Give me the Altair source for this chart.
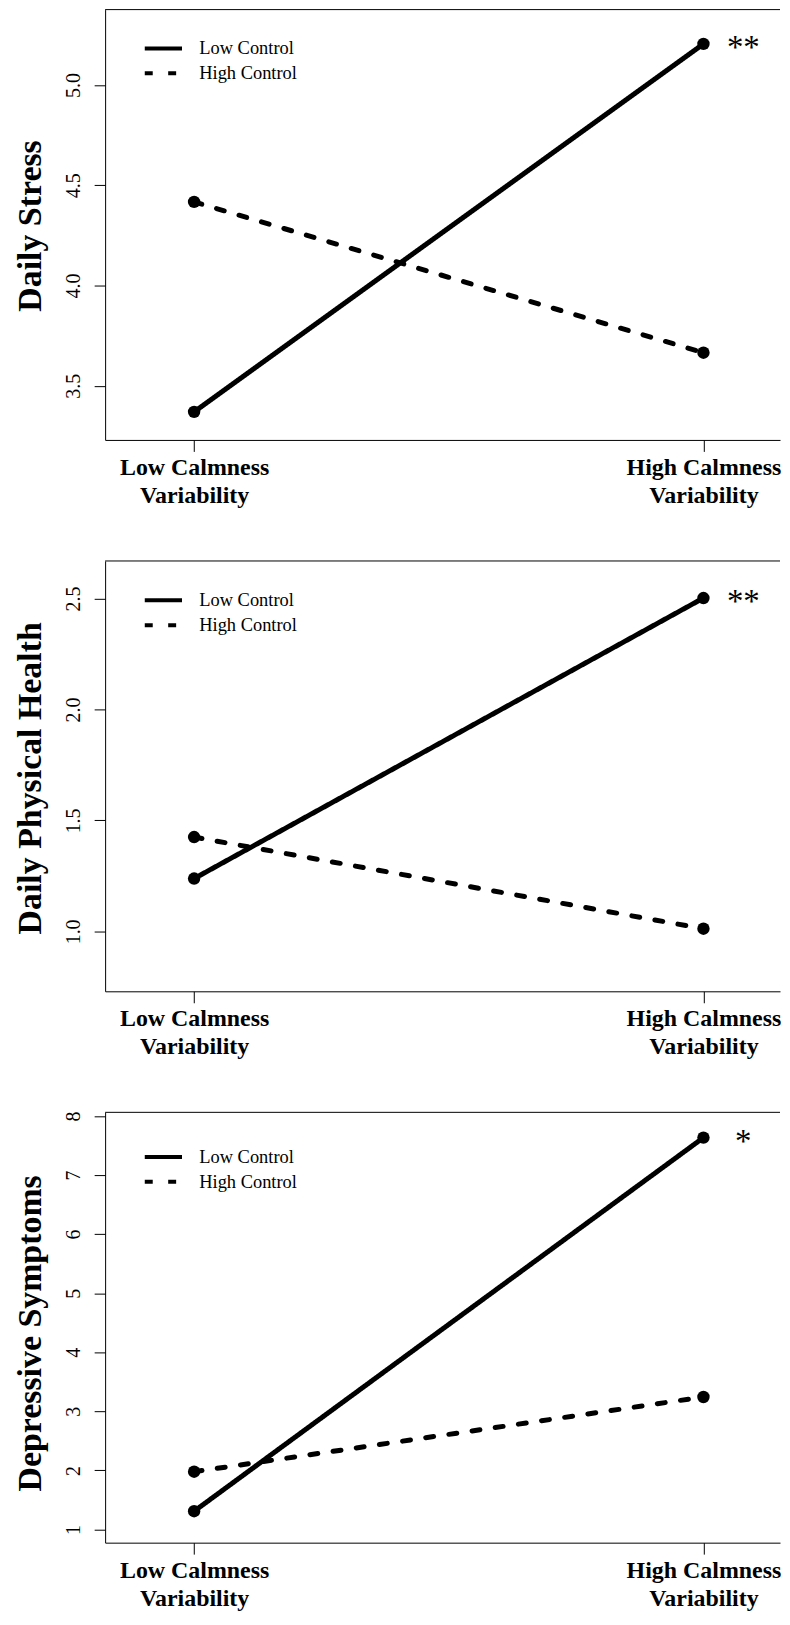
import json
import altair as alt
import pandas as pd

# ---- data ----
x_levels = [1, 2]
x_label_lines = [["Low Calmness", "Variability"], ["High Calmness", "Variability"]]
groups = ["Low Control", "High Control"]

stress_low_control = [3.370, 5.205]
stress_high_control = [4.417, 3.665]
health_low_control = [1.238, 2.502]
health_high_control = [1.425, 1.012]
dep_low_control = [1.309, 7.634]
dep_high_control = [1.978, 3.243]

titles = ["Daily Stress", "Daily Physical Health", "Depressive Symptoms"]
sig_marks = ["**", "**", "*"]
y_domains = [[3.230, 5.376], [0.730, 2.669], [0.777, 8.062]]
y_ticks = [[3.5, 4.0, 4.5, 5.0], [1.0, 1.5, 2.0, 2.5], [1, 2, 3, 4, 5, 6, 7, 8]]
y_formats = [".1f", ".1f", "d"]
heights = [432, 432, 432]
title_y = [216.7, 217.7, 221.4]
legend_y = [27.75, 28.25, 33.5]
x_domain = [0.8253, 2.1503]
PLOT_W = 677.5

FONT = "Liberation Serif"

label_expr = "datum.value == {} ? {} : {}".format(
    x_levels[0], json.dumps(x_label_lines[0]), json.dumps(x_label_lines[1])
)


def panel(i, low, high):
    df = pd.DataFrame({
        "x": x_levels * 2,
        "y": low + high,
        "group": [groups[0]] * 2 + [groups[1]] * 2,
    })
    sig_df = pd.DataFrame({"x": [x_levels[1]], "y": [low[1]], "label": [sig_marks[i]]})

    xenc = alt.X(
        "x:Q",
        scale=alt.Scale(domain=x_domain, nice=False, zero=False),
        axis=alt.Axis(
            values=x_levels, labelExpr=label_expr, title=None, grid=False,
            tickSize=11.5, labelPadding=23.2, labelFontSize=24, labelFontWeight="bold",
            labelLineHeight=28, labelBaseline="alphabetic", labelAlign="center",
            labelAngle=0, labelOverlap=False, labelFlush=False, labelBound=False,
        ),
    )
    yenc = alt.Y(
        "y:Q",
        scale=alt.Scale(domain=y_domains[i], nice=False, zero=False),
        axis=alt.Axis(
            values=y_ticks[i], format=y_formats[i], title=titles[i], grid=False,
            tickSize=11, labelPadding=14.4, labelFontSize=20, labelAngle=270,
            labelAlign="center", labelBaseline="alphabetic", labelOverlap=False,
            labelFlush=False, labelBound=False,
            titleFontSize=34, titleFontWeight="bold", titleAngle=270,
            titleX=-64.5, titleY=title_y[i], titleAlign="center",
            titleBaseline="alphabetic",
        ),
    )

    lines = alt.Chart(df).mark_line(
        color="black", strokeWidth=5, strokeCap="round"
    ).encode(
        x=xenc,
        y=yenc,
        strokeDash=alt.StrokeDash(
            "group:N",
            scale=alt.Scale(domain=groups, range=[[1, 0], [8, 15.5]]),
            legend=alt.Legend(
                title=None, orient="none", legendX=37.5, legendY=legend_y[i],
                symbolType="stroke", symbolSize=1399, symbolStrokeWidth=4,
                symbolStrokeColor="black", clipHeight=22.5, rowPadding=2,
                labelFont=FONT, labelFontSize=18.5, labelColor="black",
                labelOffset=15, padding=0,
            ),
        ),
    )
    points = alt.Chart(df).mark_point(
        filled=True, size=155, color="black", opacity=1
    ).encode(x="x:Q", y="y:Q", detail="group:N")
    sig = alt.Chart(sig_df).mark_text(
        font=FONT, fontSize=33, align="center", baseline="alphabetic",
        dx=40, dy=14.5, color="black"
    ).encode(x="x:Q", y="y:Q", text="label:N")
    top = alt.Chart(pd.DataFrame({"v": [0]})).mark_rule(
        color="black", strokeWidth=1
    ).encode(x=alt.value(0), x2=alt.value("width"), y=alt.value(0))

    return alt.layer(lines, points, sig, top).properties(width=PLOT_W, height=heights[i])


p1 = panel(0, stress_low_control, stress_high_control)
p2 = panel(1, health_low_control, health_high_control)
p3 = panel(2, dep_low_control, dep_high_control)

chart = (
    alt.vconcat(p1, p2, p3, spacing=121.5, bounds="flush")
    .resolve_scale(x="independent", y="independent", strokeDash="independent")
    .resolve_legend(strokeDash="independent")
    .properties(
        padding={"left": 4.5, "top": -2.5, "right": 0, "bottom": 0},
        autosize=alt.AutoSizeParams(type="pad"),
        background="white",
    )
    .configure_view(stroke="transparent")
    .configure_axis(
        domainColor="black", domainWidth=1, tickColor="black", tickWidth=1,
        labelColor="black", titleColor="black", labelFont=FONT, titleFont=FONT,
    )
)

chart.save("out.html", embed_options={"renderer": "svg", "actions": False})
